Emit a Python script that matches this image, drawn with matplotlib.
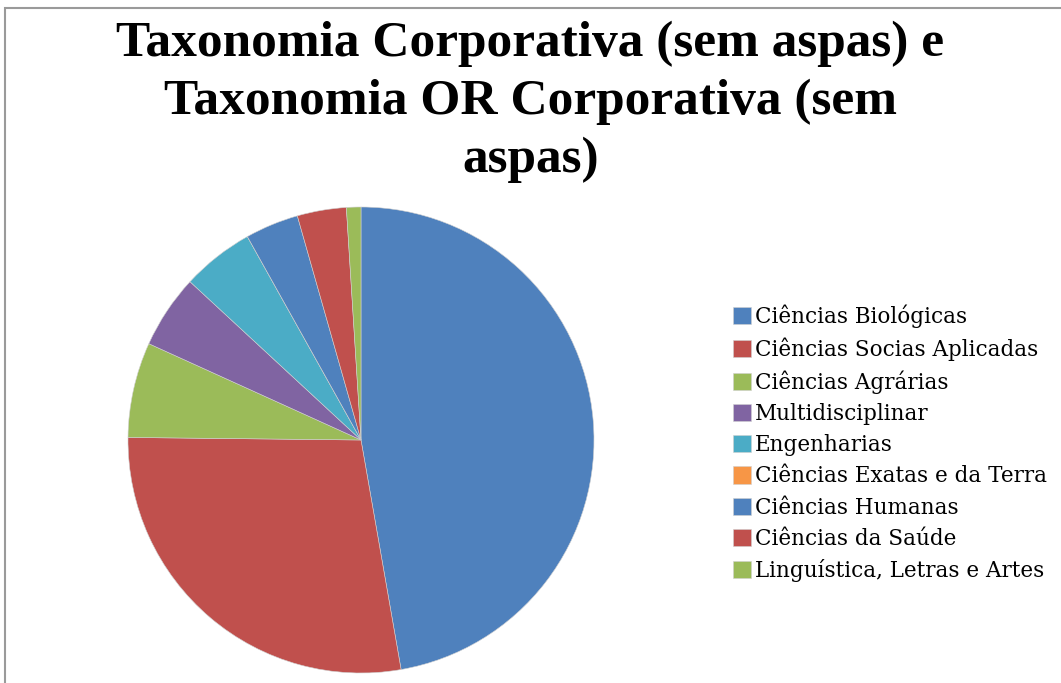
""" Pizza: Taxonomia Corporativa """

import matplotlib.pyplot as plt
from matplotlib.patches import Rectangle

# Dados (percentuais)
categorias = ['Ciências Biológicas', 'Ciências Socias Aplicadas', 'Ciências Agrárias',
              'Multidisciplinar', 'Engenharias', 'Ciências Exatas e da Terra',
              'Ciências Humanas', 'Ciências da Saúde', 'Linguística, Letras e Artes']
valores = [47.2, 27.9, 6.6, 5.1, 5.0, 0.0, 3.7, 3.4, 1.0]
cores = ['#4F81BD', '#C0504D', '#9BBB59', '#8064A2', '#4BACC6', '#F79646',
         '#4F81BD', '#C0504D', '#9BBB59']
titulo = 'Taxonomia Corporativa (sem aspas) e\nTaxonomia OR Corporativa (sem\naspas)'

W, H = 1061, 683
fig = plt.figure(figsize=(W / 100, H / 100), dpi=100)

# moldura do gráfico
fig.patches.append(Rectangle((5 / W, -0.1), 1.2, 1 - 8 / H + 0.1, transform=fig.transFigure,
                             fill=False, edgecolor='#9a9a9a', linewidth=1.5))

# eixo da pizza: centro (361, 440), raio 233 px
cx, cy, r = 361, 440, 233
ax = fig.add_axes([(cx - r) / W, (H - cy - r) / H, 2 * r / W, 2 * r / H])
fatias, _ = ax.pie(valores, colors=cores, startangle=90, counterclock=False,
                   wedgeprops=dict(edgecolor='#d0d0d0', linewidth=0.4))
ax.set_xlim(-1, 1)
ax.set_ylim(-1, 1)
ax.set_aspect('equal')

fig.text(0.5, 1 - 21 / H, titulo, ha='center', va='top', fontsize=37,
         fontweight='bold', family='Liberation Serif', linespacing=1.33)

fig.legend(fatias, categorias, loc='upper left', bbox_to_anchor=(724 / W, 1 - 296 / H),
           frameon=False, prop=dict(family='DejaVu Serif', size=15.5),
           handlelength=0.85, handleheight=0.85, handletextpad=0.2, labelspacing=0.43,
           borderaxespad=0)

plt.savefig('out.png', dpi=100)
